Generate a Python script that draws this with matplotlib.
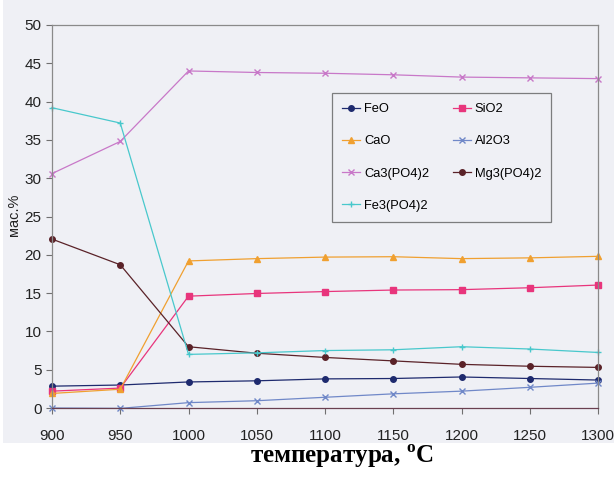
import matplotlib.pyplot as plt
from matplotlib.patches import Rectangle

# температура, °C
temps = [900, 950, 1000, 1050, 1100, 1150, 1200, 1250, 1300]

# мас.% по компонентам
feo = [2.85, 3.0, 3.4, 3.55, 3.8, 3.85, 4.05, 3.85, 3.65]
sio2 = [2.2, 2.6, 14.6, 14.95, 15.2, 15.4, 15.45, 15.7, 16.05]
cao = [1.9, 2.45, 19.2, 19.5, 19.7, 19.75, 19.5, 19.6, 19.8]
al2o3 = [0.0, -0.05, 0.7, 0.95, 1.4, 1.85, 2.2, 2.7, 3.25]
ca3po4 = [30.6, 34.8, 44.0, 43.8, 43.7, 43.5, 43.2, 43.1, 43.0]
mg3po4 = [22.05, 18.7, 8.0, 7.15, 6.6, 6.15, 5.7, 5.45, 5.3]
fe3po4 = [39.2, 37.2, 7.0, 7.2, 7.5, 7.6, 8.0, 7.7, 7.25]

names = ["FeO", "SiO2", "CaO", "Al2O3", "Ca3(PO4)2", "Mg3(PO4)2", "Fe3(PO4)2"]
values = [feo, sio2, cao, al2o3, ca3po4, mg3po4, fe3po4]
colors = ["#1e2a6e", "#e8357c", "#f0a030", "#7088c8", "#c878c8", "#5a2228", "#48c8cc"]
markers = ["o", "s", "^", "x", "x", "o", "+"]

plt.rcParams["font.family"] = ["Liberation Sans", "DejaVu Sans"]
plt.rcParams["mathtext.fontset"] = "custom"
plt.rcParams["mathtext.rm"] = "Liberation Serif"
plt.rcParams["mathtext.bf"] = "Liberation Serif:bold"

fig = plt.figure(figsize=(6.16, 4.78), dpi=100, facecolor="white")
# серый фон скана
fig.patches.append(Rectangle((0.005, 0.073), 0.992, 0.927, transform=fig.transFigure,
                             facecolor="#eff0f5", edgecolor="none", zorder=-10))

ax = fig.add_axes([52 / 616, 70 / 478, 546 / 616, 383 / 478])
ax.set_facecolor("none")

lines = {}
for name, vals, c, m in zip(names, values, colors, markers):
    ms = 4.5 if m in ("x", "+") else 4
    ln, = ax.plot(temps, vals, color=c, marker=m, markersize=ms, linewidth=0.9,
                  markeredgewidth=1.0, clip_on=False, label=name)
    lines[name] = ln

ax.set_xlim(900, 1300)
ax.set_ylim(0, 50)
ax.set_xticks(temps)
ax.set_yticks(range(0, 51, 5))
ax.tick_params(axis="both", labelsize=11, length=4, width=0.8, color="#707070",
               labelcolor="#222222")
ax.tick_params(axis="x", pad=11)

for side in ["top", "right", "left"]:
    ax.spines[side].set_color("#8a8a8a")
    ax.spines[side].set_linewidth(0.9)
ax.spines["bottom"].set_color("#6a4050")
ax.spines["bottom"].set_linewidth(0.9)

fig.text(14 / 616, 1 - 215 / 478, "мас.%", rotation=90, ha="center", va="center",
         fontsize=10.5, color="#222222")
fig.text(342 / 616, 1 - 456 / 478, "температура, $^{\\mathbf{o}}$C", ha="center", va="center",
         fontsize=18, fontweight="bold", family=["Liberation Serif", "DejaVu Serif"])

order = ["FeO", "CaO", "Ca3(PO4)2", "Fe3(PO4)2", "SiO2", "Al2O3", "Mg3(PO4)2"]
leg = ax.legend([lines[n] for n in order], order, ncol=2, loc="upper left",
                bbox_to_anchor=(332 / 616, 1 - 93 / 478), bbox_transform=fig.transFigure,
                fontsize=9.3, frameon=True, fancybox=False, labelspacing=1.55,
                handlelength=1.4, handletextpad=0.3, columnspacing=1.8,
                borderpad=0.8, borderaxespad=0)
leg.get_frame().set_edgecolor("#606060")
leg.get_frame().set_facecolor("#eff0f5")
leg.get_frame().set_linewidth(0.9)

plt.savefig("out.png", dpi=100)
